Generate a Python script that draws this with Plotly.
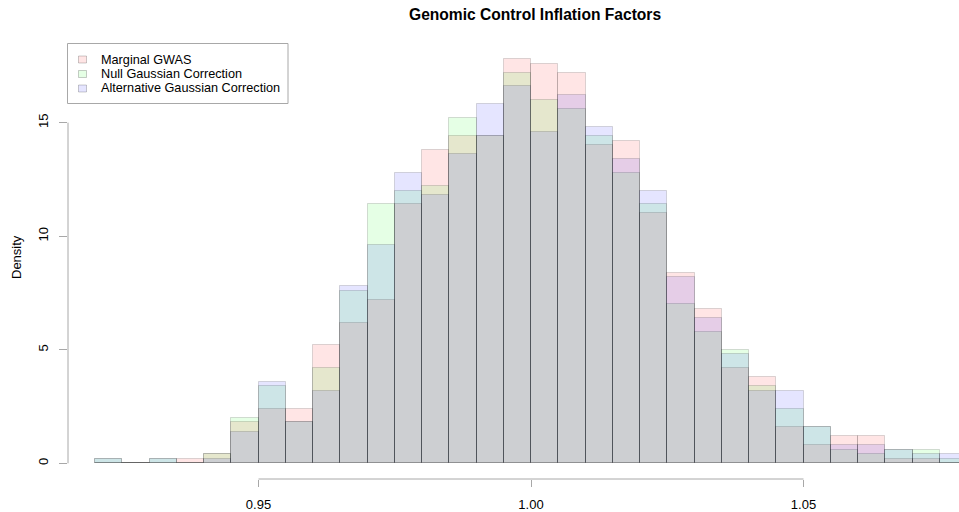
import numpy as np
import plotly.graph_objects as go

# Histogram breaks (bin width 0.005) and per-bin densities for each method
bin_width = 0.005
breaks = np.round(np.arange(0.92, 1.0801, bin_width), 3)
bin_mids = breaks[:-1] + bin_width / 2

marginal_gwas = [0.0, 0.0, 0.0, 0.2, 0.4, 1.8, 2.4, 2.4, 5.2, 6.2, 7.2, 11.4,
                 13.8, 14.4, 14.4, 17.8, 17.6, 17.2, 14.0, 14.2, 11.0, 8.4,
                 6.8, 4.2, 3.8, 1.6, 0.8, 1.2, 1.2, 0.2, 0.2, 0.0]
null_gaussian = [0.2, 0.0, 0.2, 0.0, 0.4, 2.0, 3.4, 1.8, 4.2, 7.6, 11.4, 12.0,
                 12.2, 15.2, 14.4, 17.2, 16.0, 15.6, 14.4, 12.8, 11.4, 7.0,
                 5.8, 5.0, 3.4, 2.4, 1.6, 0.6, 0.4, 0.6, 0.6, 0.2]
alt_gaussian = [0.2, 0.0, 0.2, 0.0, 0.2, 1.4, 3.6, 1.8, 3.2, 7.8, 9.6, 12.8,
                11.8, 13.6, 15.8, 16.6, 14.6, 16.2, 14.8, 13.4, 12.0, 8.2,
                6.4, 4.8, 3.2, 3.2, 1.6, 0.8, 0.8, 0.6, 0.4, 0.4]

series_names = ["Marginal GWAS", "Null Gaussian Correction",
                "Alternative Gaussian Correction"]
series_values = [marginal_gwas, null_gaussian, alt_gaussian]
fill_colors = ["rgba(255,0,0,0.1)", "rgba(0,255,0,0.1)", "rgba(0,0,255,0.1)"]
edge_color = "rgba(0,0,0,0.14)"

x_ticks = [0.95, 1.00, 1.05]
x_tick_text = ["0.95", "1.00", "1.05"]
y_ticks = [0, 5, 10, 15]

FONT = "Liberation Sans, Arial, Helvetica, sans-serif"
AXIS_GREY = "#a8a8a8"

# Canvas and plotting-region geometry (pixels)
W, H = 959, 512
PL, PR, PT, PB = 68, 959, 40, 479
x_range = [0.95 - (258.5 - PL) / 5450.0, 0.95 + (PR - 258.5) / 5450.0]
y_px_per_unit = 22.71
y_range = [-(PB - 463.3) / y_px_per_unit, (463.3 - PT) / y_px_per_unit]


def px_x(px):
    return (px - PL) / (PR - PL)


def px_y(py):
    return (PB - py) / (PB - PT)


fig = go.Figure()
for name, vals, col in zip(series_names, series_values, fill_colors):
    fig.add_trace(go.Bar(
        x=bin_mids, y=vals, width=bin_width, name=name,
        marker=dict(color=col, line=dict(color=edge_color, width=1)),
        hoverinfo="x+y+name",
    ))

shapes = [
    # R-style axis lines spanning only the tick range
    dict(type="line", xref="x", yref="paper", x0=x_ticks[0], x1=x_ticks[-1],
         y0=0, y1=0, line=dict(color=AXIS_GREY, width=1)),
    dict(type="line", xref="paper", yref="y", x0=0, x1=0,
         y0=y_ticks[0], y1=y_ticks[-1], line=dict(color=AXIS_GREY, width=1)),
    # legend frame
    dict(type="rect", xref="paper", yref="paper",
         x0=px_x(67.5), x1=px_x(288), y0=px_y(43.5), y1=px_y(103.5),
         line=dict(color="#a8a8a8", width=1), fillcolor="white"),
]

annotations = [
    dict(text="<b>Genomic Control Inflation Factors</b>", xref="paper",
         yref="paper", x=px_x(535), y=px_y(14), showarrow=False,
         font=dict(family=FONT, size=15.6, color="black"),
         xanchor="center", yanchor="middle"),
    dict(text="Density", xref="paper", yref="paper", x=px_x(16),
         y=px_y(257), showarrow=False, textangle=-90,
         font=dict(family=FONT, size=13, color="black"),
         xanchor="center", yanchor="middle"),
]

legend_rows = [59.5, 74.0, 88.5]
for name, col, cy in zip(series_names, fill_colors, legend_rows):
    shapes.append(dict(type="rect", xref="paper", yref="paper",
                       x0=px_x(78.5), x1=px_x(86.5), y0=px_y(cy + 3.5),
                       y1=px_y(cy - 3.5), fillcolor=col,
                       line=dict(color="rgba(0,0,0,0.2)", width=1)))
    annotations.append(dict(text=name, xref="paper", yref="paper",
                            x=px_x(99), y=px_y(cy), showarrow=False,
                            xanchor="left", yanchor="middle",
                            font=dict(family=FONT, size=12.7, color="black")))

fig.update_layout(
    width=W, height=H,
    margin=dict(l=PL, r=W - PR, t=PT, b=H - PB, pad=0),
    paper_bgcolor="white", plot_bgcolor="white",
    barmode="overlay", bargap=0, showlegend=False,
    font=dict(family=FONT, size=13, color="black"),
    shapes=shapes, annotations=annotations,
    xaxis=dict(range=x_range, tickvals=x_ticks, ticktext=x_tick_text,
               ticks="outside", ticklen=7, tickcolor=AXIS_GREY, tickwidth=1,
               showgrid=False, zeroline=False, showline=False,
               ticklabelstandoff=6, tickfont=dict(size=13)),
    yaxis=dict(range=y_range, tickvals=y_ticks, ticks="outside", ticklen=8,
               tickcolor=AXIS_GREY, tickwidth=1, tickangle=-90,
               showgrid=False, zeroline=False, showline=False,
               ticklabelstandoff=6, tickfont=dict(size=13)),
)

fig.write_html("out.html")
